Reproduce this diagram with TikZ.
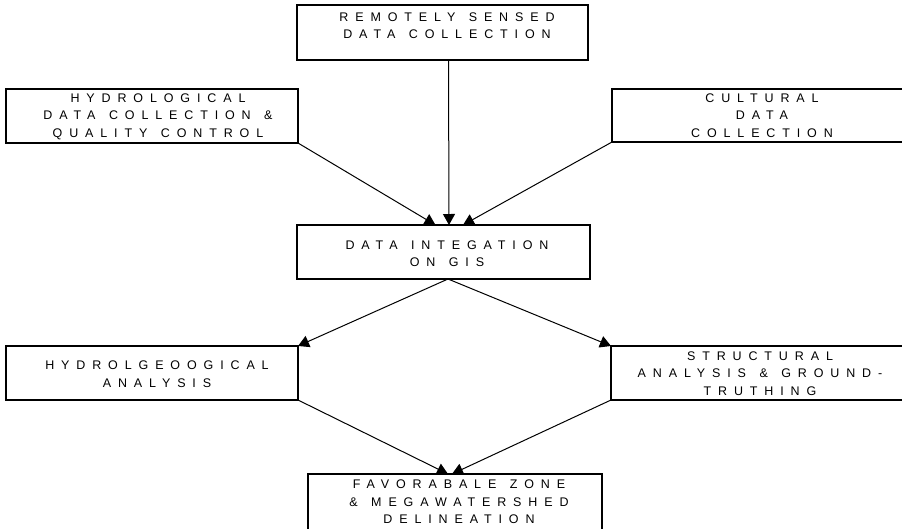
\documentclass[tikz,border=0pt]{standalone}
\usepackage{fontspec}
\setmainfont{Liberation Sans}
\newfontfamily\spacedfont[LetterSpace=55,WordSpace=1.3]{Liberation Sans}
\usetikzlibrary{arrows.meta,calc}
\begin{document}
\begin{tikzpicture}[x=1pt,y=-1pt,
  box/.style={draw, line width=1.1pt, inner sep=0pt, outer sep=0pt},
  lbl/.style={align=center, inner sep=0pt, font=\spacedfont\fontsize{12.5}{17.5}\selectfont},
  arr/.style={line width=1pt, -{Triangle[length=11pt,width=12pt]}}]
\useasboundingbox (0,0) rectangle (902,528);
\clip (0,0) rectangle (902,528);
% boxes
\node[box, minimum width=291pt, minimum height=55pt] (b1) at (442.5,32.5) {};
\node[box, minimum width=292pt, minimum height=54pt] (b2) at (152,116) {};
\node[box, minimum width=293pt, minimum height=53pt] (b3) at (758.5,115.5) {};
\node[box, minimum width=293pt, minimum height=54pt] (b4) at (443.5,252) {};
\node[box, minimum width=292pt, minimum height=54pt] (b5) at (152,373) {};
\node[box, minimum width=292pt, minimum height=54pt] (b6) at (757,373) {};
\node[box, minimum width=294pt, minimum height=61pt] (b7) at (455,504.5) {};
% labels
\node[lbl] (t1) at (447,25.5) {REMOTELY SENSED\\DATA COLLECTION};
\node[lbl] (t2) at (158,116.5) {HYDROLOGICAL\\DATA COLLECTION \&\\QUALITY CONTROL};
\node[lbl] (t3) at (762,115.5) {CULTURAL\\DATA\\COLLECTION};
\node[lbl] (t4) at (447,253.5) {DATA INTEGATION\\ON GIS};
\node[lbl] (t5) at (157,374) {HYDROLGEOOGICAL\\ANALYSIS};
\node[lbl] (t6) at (760,373.5) {STRUCTURAL\\ANALYSIS \& GROUND-\\TRUTHING};
\node[lbl] (t7) at (459,502) {FAVORABALE ZONE\\\& MEGAWATERSHED\\DELINEATION};
% connectors
\draw[arr] ([xshift=6pt]b1.south) -- ([xshift=5.5pt]b4.north);
\draw[arr] (b2.south east) -- ([xshift=-8pt]b4.north);
\draw[arr] (b3.south west) -- ([xshift=19.5pt]b4.north);
\draw[arr] ([xshift=4.5pt]b4.south) -- (b5.north east);
\draw[arr] ([xshift=4.5pt]b4.south) -- (b6.north west);
\draw[arr] (b5.south east) -- ([xshift=-7pt]b7.north);
\draw[arr] (b6.south west) -- ([xshift=-3pt]b7.north);
\end{tikzpicture}
\end{document}
